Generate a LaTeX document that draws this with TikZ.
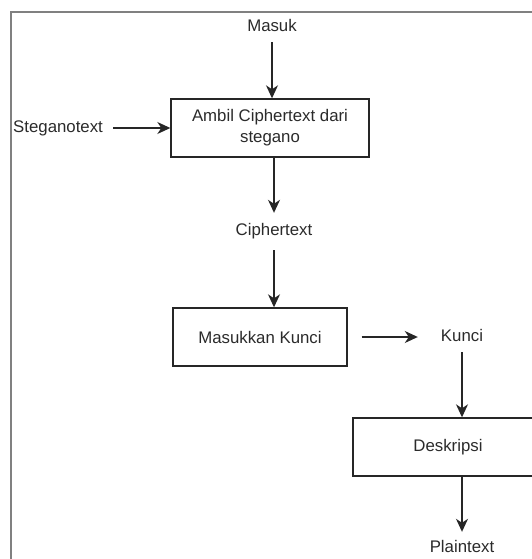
\documentclass[tikz,border=0pt]{standalone}
\usepackage{fontspec}
\setmainfont{Liberation Sans}
\usetikzlibrary{arrows.meta}
\definecolor{txtc}{HTML}{2b2b2b}
\definecolor{framec}{HTML}{808080}
\tikzset{
  lbl/.style={inner sep=0pt, text height=12pt, text depth=4pt, text=txtc,
    font=\fontsize{16.8pt}{21pt}\selectfont},
  procbox/.style={draw=black!85, line width=1.4pt, fill=white, inner sep=0pt,
    align=center, text=txtc, font=\fontsize{16.8pt}{21pt}\selectfont},
  flow/.style={draw=black!85, line width=1.4pt, -{Stealth[length=13pt,width=12pt,inset=4pt]}},
  outerframe/.style={draw=framec, line width=1.6pt}
}
\begin{document}
\begin{tikzpicture}[x=1pt,y=-1pt]
\useasboundingbox (0,0) rectangle (532,559);
\clip (0,0) rectangle (532,559);
\fill[white] (0,0) rectangle (532,559);
\draw[outerframe] (11,700) -- (11,12) -- (700,12);

\node[lbl] (masuk) at (272,28) {Masuk};
\node[procbox, minimum width=198pt, minimum height=58pt] (amb) at (270,128)
  {Ambil Ciphertext dari\\stegano};
\node[lbl, anchor=west] (steg) at (13,128) {Steganotext};
\node[lbl] (cipher) at (274,231) {Ciphertext};
\node[procbox, minimum width=174pt, minimum height=58pt] (kunciin) at (260,337)
  {Masukkan Kunci};
\node[lbl] (kunci) at (462,337) {Kunci};
\node[procbox, minimum width=190pt, minimum height=58pt] (desk) at (448,447)
  {Deskripsi};
\node[lbl] (plain) at (462,548) {Plaintext};

\draw[flow, shorten <=6pt] (masuk.south) -- (masuk.south |- amb.north);
\draw[flow, shorten <=10pt] (steg.east) -- (amb.west);
\draw[flow, shorten >=10pt] (cipher.north |- amb.south) -- (cipher.north);
\draw[flow, shorten <=11pt] (cipher.south) -- (cipher.south |- kunciin.north);
\draw[flow, shorten <=14pt, shorten >=23pt] (kunciin.east) -- (kunciin.east -| kunci.west);
\draw[flow, shorten <=7pt] (kunci.south) -- (kunci.south |- desk.north);
\draw[flow, shorten >=8pt] (plain.north |- desk.south) -- (plain.north);
\end{tikzpicture}
\end{document}
